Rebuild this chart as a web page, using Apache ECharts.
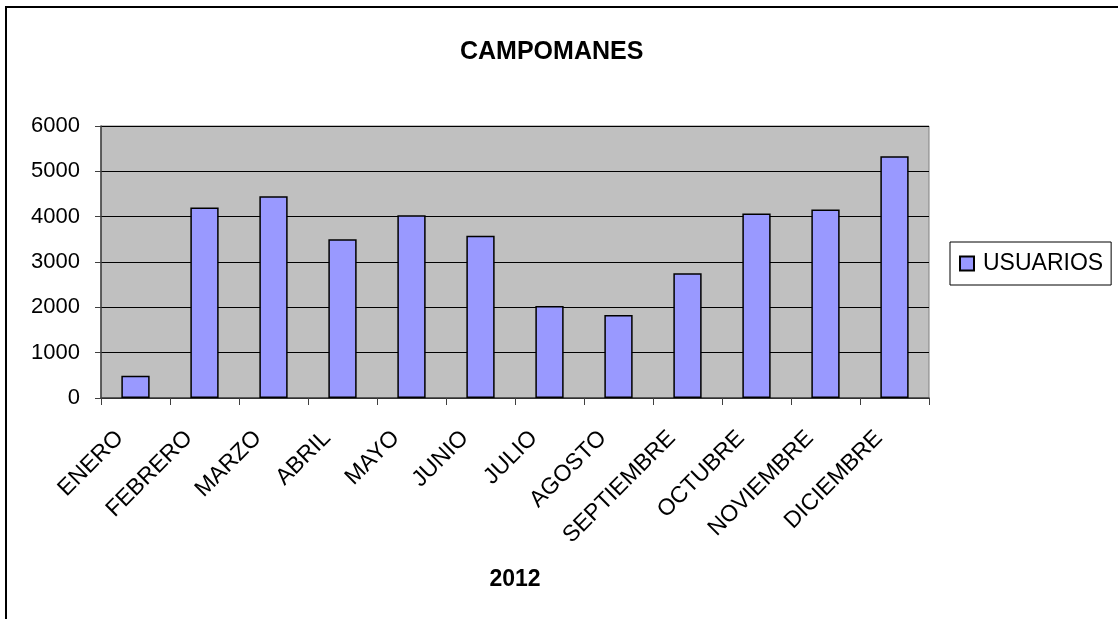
<!DOCTYPE html>
<html>
<head>
<meta charset="utf-8">
<script src="https://cdn.jsdelivr.net/npm/echarts@6/dist/echarts.min.js"></script>
<style>
html,body{margin:0;padding:0;background:#fff;overflow:hidden;}
#c{width:1118px;height:619px;}
</style>
</head>
<body>
<div id="c"></div>
<script>
const categories = ['ENERO','FEBRERO','MARZO','ABRIL','MAYO','JUNIO','JULIO','AGOSTO','SEPTIEMBRE','OCTUBRE','NOVIEMBRE','DICIEMBRE'];
const usuarios = [490, 4200, 4450, 3500, 4030, 3580, 2030, 1830, 2750, 4070, 4160, 5330];
const seriesName = 'USUARIOS';
const titleText = 'CAMPOMANES';
const xAxisName = '2012';

const chart = echarts.init(document.getElementById('c'), null, {renderer:'canvas'});
const F = 'Arial, "Liberation Sans", sans-serif';
chart.setOption({
  animation:false,
  backgroundColor:'#fff',
  title:{text:titleText, left:455, top:35, textStyle:{fontFamily:F, fontWeight:'bold', fontSize:25, color:'#000'}},
  graphic:[{type:'rect', shape:{x:6,y:7,width:1300,height:800}, style:{fill:'none', stroke:'#000', lineWidth:2}, z:100}],
  legend:{
    data:[seriesName], left:950, top:242, orient:'vertical',
    borderColor:'#000', borderWidth:1, padding:[10,8,10,9],
    itemWidth:14, itemHeight:14, itemGap:4, icon:'rect',
    textStyle:{fontFamily:F, fontSize:23, color:'#000', lineHeight:20, padding:[0,0,0,4]}
  },
  grid:{left:101, right:189, top:126, bottom:221, show:true, backgroundColor:'#C0C0C0', borderColor:'#808080', borderWidth:1},
  xAxis:{
    type:'category', data:categories,
    name:xAxisName, nameLocation:'middle', nameGap:170,
    nameTextStyle:{fontFamily:F, fontWeight:'bold', fontSize:23, color:'#000'},
    axisLine:{lineStyle:{color:'#404040', width:1.5}},
    axisTick:{show:true, length:7, lineStyle:{color:'#404040'}},
    axisLabel:{rotate:45, fontFamily:F, fontSize:23, color:'#000', margin:21, interval:0, padding:[0,22,0,0]}
  },
  yAxis:{
    type:'value', min:0, max:6000, interval:1000,
    axisLine:{show:true, lineStyle:{color:'#404040', width:1.5}},
    axisTick:{show:true, length:6, lineStyle:{color:'#404040'}},
    axisLabel:{fontFamily:F, fontSize:22, color:'#000', margin:21, formatter:function(v){return String(v);}},
    splitLine:{lineStyle:{color:'#000', width:1}}
  },
  series:[{
    name:seriesName, type:'bar', data:usuarios,
    barWidth:'41%',
    itemStyle:{color:'#9999FF', borderColor:'#000', borderWidth:1.5}
  }]
});
</script>
</body>
</html>
